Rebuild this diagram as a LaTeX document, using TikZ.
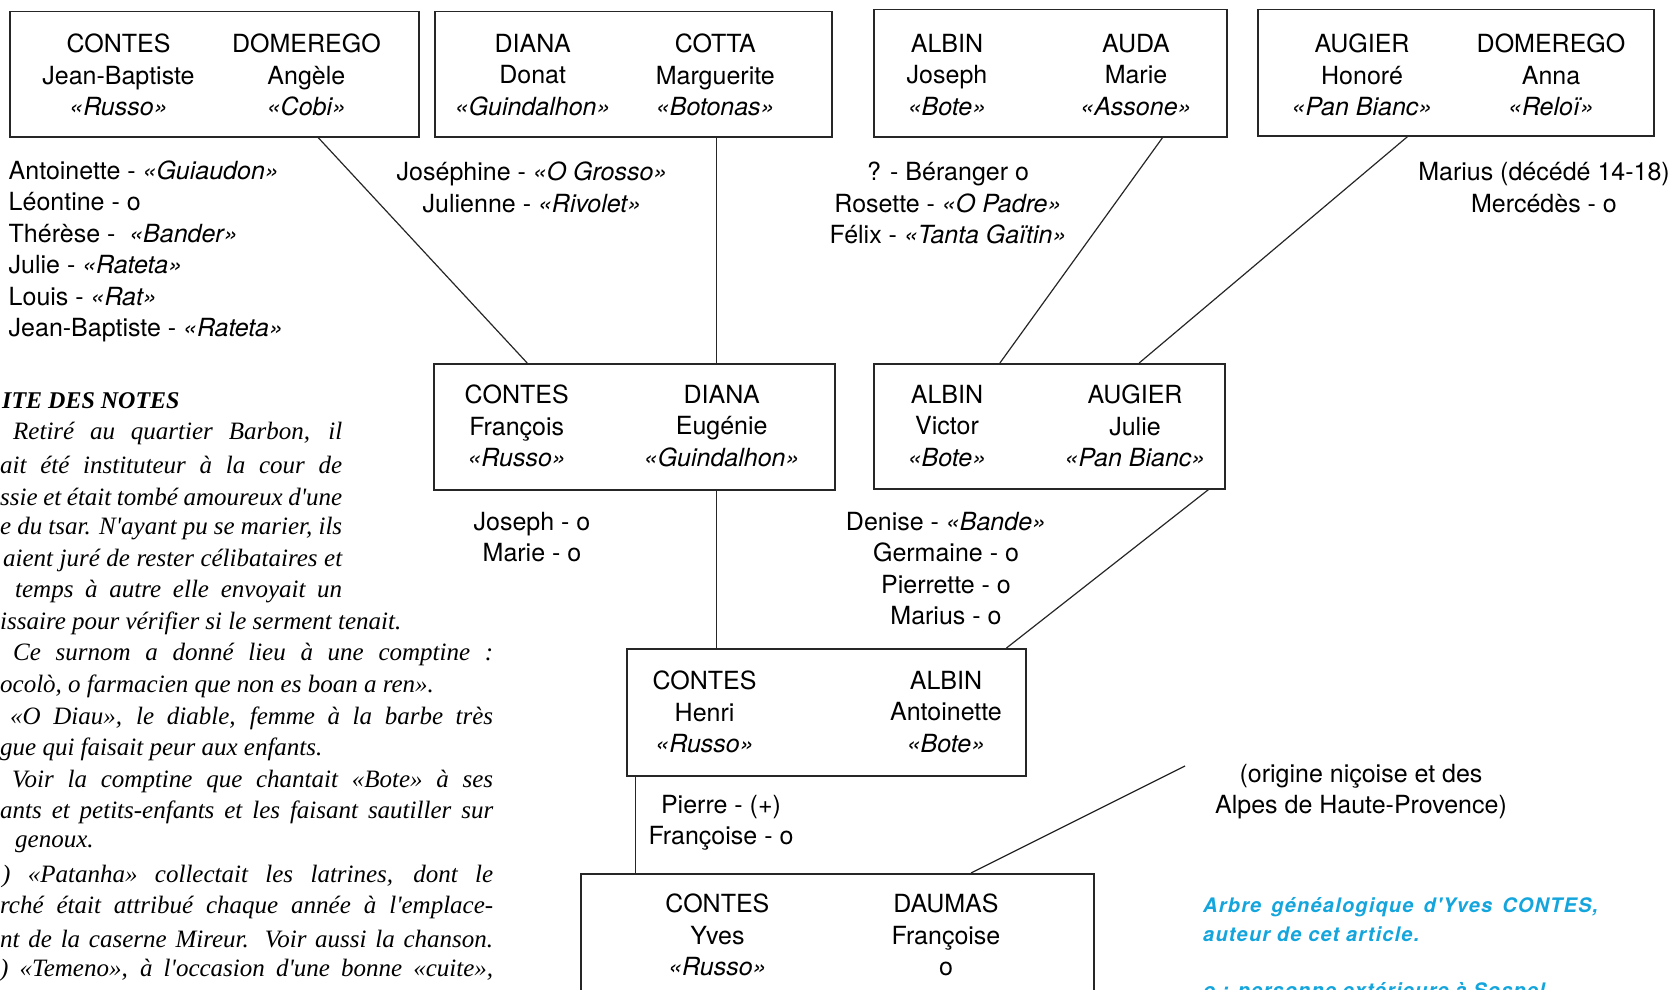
\documentclass[tikz,border=0pt]{standalone}
\usepackage{fontspec}
\setmainfont{TeX Gyre Heros}
\newfontfamily\notesfont{Liberation Serif}
\newfontfamily\legendefont[LetterSpace=6]{TeX Gyre Heros}
\usetikzlibrary{calc}
\definecolor{legende}{RGB}{20,165,220}
\newcommand{\surnom}[1]{\textit{«#1»}}

\begin{document}
\begin{tikzpicture}[x=1pt,y=1pt,yscale=-1,xscale=1,
    famille/.style={draw=black!85, line width=1.5pt, anchor=north west, inner sep=0pt},
    nom/.style={align=center, inner sep=0pt, font=\fontsize{25}{31.5}\selectfont},
    enfants/.style={align=center, inner sep=0pt, font=\fontsize{25}{31.5}\selectfont},
    lien/.style={draw=black!85, line width=1.2pt},
    note/.style={anchor=west, inner sep=0pt, font=\notesfont\itshape\fontsize{25}{31.6}\selectfont},
    legendetxt/.style={anchor=west, inner sep=0pt, text=legende, font=\legendefont\bfseries\itshape\fontsize{20}{25.6}\selectfont}]
    \useasboundingbox (0,0) rectangle (1674,990);

    %Shape: Rectangle [couples]
    \node[famille, minimum width=409, minimum height=125] (f1) at (9,11) {};
    \node[famille, minimum width=397, minimum height=125] (f2) at (434,11) {};
    \node[famille, minimum width=353, minimum height=127] (f3) at (873,9) {};
    \node[famille, minimum width=396, minimum height=126] (f4) at (1257,9) {};
    \node[famille, minimum width=401, minimum height=126] (f5) at (433,363) {};
    \node[famille, minimum width=351, minimum height=125] (f6) at (873,363) {};
    \node[famille, minimum width=399, minimum height=127] (f7) at (626,648) {};
    \node[famille, minimum width=513, minimum height=140] (f8) at (580,873) {};

    % Text Node
    \node[nom] (f1a) at (118.5,75) {CONTES\\Jean-Baptiste\\\surnom{Russo}};
    \node[nom] (f1b) at (306.4,75) {DOMEREGO\\Angèle\\\surnom{Cobi}};
    % Text Node
    \node[nom] (f2a) at (532.7,75) {DIANA\\Donat\\\surnom{Guindalhon}};
    \node[nom] (f2b) at (715.3,75) {COTTA\\Marguerite\\\surnom{Botonas}};
    % Text Node
    \node[nom] (f3a) at (947,75) {ALBIN\\Joseph\\\surnom{Bote}};
    \node[nom] (f3b) at (1136,75) {AUDA\\Marie\\\surnom{Assone}};
    % Text Node
    \node[nom] (f4a) at (1362,75) {AUGIER\\Honoré\\\surnom{Pan Bianc}};
    \node[nom] (f4b) at (1551,75) {DOMEREGO\\Anna\\\surnom{Reloï}};
    % Text Node
    \node[nom] (f5a) at (516.7,426) {CONTES\\François\\\surnom{Russo}};
    \node[nom] (f5b) at (721.7,426) {DIANA\\Eugénie\\\surnom{Guindalhon}};
    % Text Node
    \node[nom] (f6a) at (947,426) {ALBIN\\Victor\\\surnom{Bote}};
    \node[nom] (f6b) at (1135,426) {AUGIER\\Julie\\\surnom{Pan Bianc}};
    % Text Node
    \node[nom] (f7a) at (704.6,712) {CONTES\\Henri\\\surnom{Russo}};
    \node[nom] (f7b) at (946,712) {ALBIN\\Antoinette\\\surnom{Bote}};
    % Text Node
    \node[nom] (f8a) at (717.4,935) {CONTES\\Yves\\\surnom{Russo}};
    \node[nom] (f8b) at (946,935) {DAUMAS\\Françoise\\o};

    % Text Node [enfants]
    \node[enfants, align=left, anchor=west] (e1) at (8.5,251.5) {Antoinette - \surnom{Guiaudon}\\Léontine - o\\Thérèse - \ \surnom{Bander}\\Julie - \surnom{Rateta}\\Louis - \surnom{Rat}\\Jean-Baptiste - \surnom{Rateta}};
    \node[enfants] (e2) at (532,187.5) {Joséphine - \surnom{O Grosso}\\Julienne - \surnom{Rivolet}};
    \node[enfants] (e3) at (948,203) {? - Béranger o\\Rosette - \surnom{O Padre}\\Félix - \surnom{Tanta Gaïtin}};
    \node[enfants] (e4) at (1544,187.5) {Marius (décédé 14-18)\\Mercédès - o};
    \node[enfants] (e5) at (532,537) {Joseph - o\\Marie - o};
    \node[enfants] (e6) at (946,568.5) {Denise - \surnom{Bande}\\Germaine - o\\Pierrette - o\\Marius - o};
    \node[enfants] (e7) at (721,823) {Pierre - (+)\\Françoise - o};
    \node[enfants] (origine) at (1361,791.5) {(origine niçoise et des\\Alpes de Haute-Provence)};

    %Straight Lines [liens]
    \draw[lien] ($(f1.south west)!0.753!(f1.south east)$) -- ($(f5.north west)!0.234!(f5.north east)$);
    \coordinate (a2) at ($(f2.south west)!0.708!(f2.south east)$);
    \draw[lien] (a2) -- (a2 |- f5.north);
    \draw[lien] ($(f3.south west)!0.817!(f3.south east)$) -- ($(f6.north west)!0.36!(f6.north east)$);
    \draw[lien] ($(f4.south west)!0.379!(f4.south east)$) -- ($(f6.north west)!0.755!(f6.north east)$);
    \coordinate (a5) at (a2 |- f5.south);
    \draw[lien] (a5) -- (a5 |- f7.north);
    \draw[lien] ($(f6.south west)!0.952!(f6.south east)$) -- ($(f7.north west)!0.95!(f7.north east)$);
    \coordinate (a7) at ($(f7.south west)!0.023!(f7.south east)$);
    \draw[lien] (a7) -- (a7 |- f8.north);
    \coordinate (versorigine) at (1185,766);
    \draw[lien] ($(f8.north west)!0.76!(f8.north east)$) -- (versorigine);

    % Text Node [suite des notes]
    \node[note, font=\notesfont\bfseries\itshape\fontsize{24}{30}\selectfont] (n0) at (2,401) {ITE DES NOTES};
    \node[note] (n1) at (13,433.6) {\makebox[329pt][s]{Retiré au quartier Barbon, il}};
    \node[note] (n2) at (0,465.2) {\makebox[342pt][s]{ait été instituteur à la cour de}};
    \node[note] (n3) at (0,496.8) {\makebox[342pt][s]{ssie et était tombé amoureux d'une}};
    \node[note] (n4) at (0,528.4) {\makebox[342pt][s]{e du tsar. N'ayant pu se marier, ils}};
    \node[note] (n5) at (3,560) {\makebox[339pt][s]{aient juré de rester célibataires et}};
    \node[note] (n6) at (15,591.6) {\makebox[327pt][s]{temps à autre elle envoyait un}};
    \node[note] (n7) at (0,623.2) {issaire pour vérifier si le serment tenait.};
    \node[note] (n8) at (13,654.8) {\makebox[480pt][s]{Ce surnom a donné lieu à une comptine :}};
    \node[note] (n9) at (0,686.4) {ocolò, o farmacien que non es boan a ren».};
    \node[note] (n10) at (10,718) {\makebox[483pt][s]{«O Diau», le diable, femme à la barbe très}};
    \node[note] (n11) at (0,749.6) {gue qui faisait peur aux enfants.};
    \node[note] (n12) at (12,781.2) {\makebox[481pt][s]{Voir la comptine que chantait «Bote» à ses}};
    \node[note] (n13) at (0,812.8) {\makebox[493pt][s]{ants et petits-enfants et les faisant sautiller sur}};
    \node[note] (n14) at (15,844.4) {genoux.};
    \node[note] (n15) at (2,876) {\makebox[491pt][s]{) «Patanha» collectait les latrines, dont le}};
    \node[note] (n16) at (0,907.6) {\makebox[493pt][s]{rché était attribué chaque année à l'emplace-}};
    \node[note] (n17) at (0,939.2) {\makebox[493pt][s]{nt de la caserne Mireur. Voir aussi la chanson.}};
    \node[note] (n18) at (0,970.8) {\makebox[493pt][s]{) «Temeno», à l'occasion d'une bonne «cuite»,}};

    % Text Node [legende]
    \node[legendetxt] (l1) at (1203,907.5) {\makebox[395pt][s]{Arbre généalogique d'Yves CONTES,}};
    \node[legendetxt] (l2) at (1203,934) {auteur de cet article.};
    \node[legendetxt] (l3) at (1203,992) {o : personne extérieure à Sospel};
\end{tikzpicture}
\end{document}
